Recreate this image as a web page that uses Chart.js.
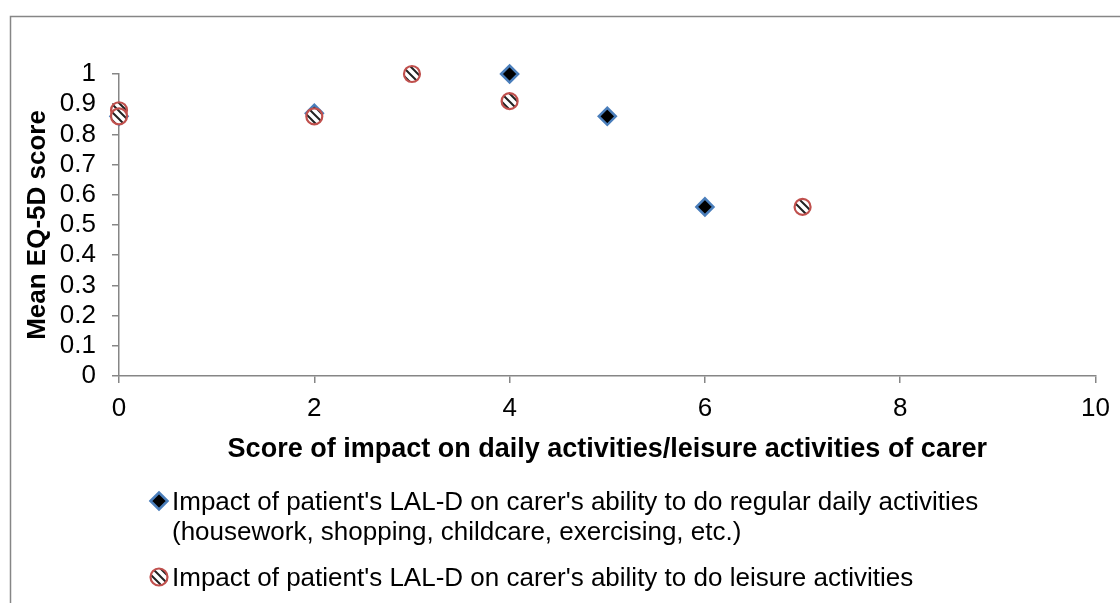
<!DOCTYPE html>
<html>
<head>
<meta charset="utf-8">
<script src="https://cdn.jsdelivr.net/npm/chart.js@4"></script>
<style>
  html, body { margin: 0; padding: 0; background: #fff; }
  #grafico { display: block; }
</style>
</head>
<body>
<canvas id="grafico" width="1120" height="603"></canvas>
<script>
// Dados
var regularX = [0, 2, 4, 5, 6]
var regularY = [0.86, 0.87, 1.0, 0.86, 0.56]

var leisureX = [0, 0, 2, 3, 4, 7]
var leisureY = [0.88, 0.86, 0.86, 1.0, 0.91, 0.56]

var regularLabel = ["Impact of patient's LAL-D on carer's ability to do regular daily activities",
                    "(housework, shopping, childcare, exercising, etc.)"]
var leisureLabel = ["Impact of patient's LAL-D on carer's ability to do leisure activities"]

var xTitle = 'Score of impact on daily activities/leisure activities of carer'
var yTitle = 'Mean EQ-5D score'

var fonte = 'Liberation Sans, Arial, sans-serif'
var cinza = '#868686'

function pontos(xs, ys){
  return xs.map((x, i) => ({x: x, y: ys[i]}))
}

// Padrão listrado dos círculos
function criaPadrao(){
  const c = document.createElement('canvas')
  c.width = 8
  c.height = 8
  const p = c.getContext('2d')
  p.fillStyle = '#fff'
  p.fillRect(0, 0, 8, 8)
  p.strokeStyle = '#222'
  p.lineWidth = 2
  p.beginPath()
  p.moveTo(-2, -2); p.lineTo(10, 10)
  p.moveTo(-2, 6); p.lineTo(2, 10)
  p.moveTo(6, -2); p.lineTo(10, 2)
  p.stroke()
  return document.getElementById('grafico').getContext('2d').createPattern(c, 'repeat')
}
const listrado = criaPadrao()

// Desenha um marcador da legenda
function marcador(ctx, estilo, raio, fundo, borda, largura, x, y){
  ctx.fillStyle = fundo
  ctx.strokeStyle = borda
  ctx.lineWidth = largura
  Chart.helpers.drawPoint(ctx, {pointStyle: estilo, radius: raio, rotation: 0, borderWidth: largura}, x, y)
}

// Moldura e legenda
const molduraLegenda = {
  id: 'molduraLegenda',
  beforeDraw(chart){
    const ctx = chart.ctx
    ctx.save()
    ctx.strokeStyle = cinza
    ctx.lineWidth = 1.5
    ctx.beginPath()
    ctx.moveTo(10.5, 603)
    ctx.lineTo(10.5, 16.5)
    ctx.lineTo(1120, 16.5)
    ctx.stroke()
    ctx.restore()
  },
  afterDraw(chart){
    const ctx = chart.ctx
    ctx.save()
    marcador(ctx, 'rectRot', 8.5, '#000', '#4a7ebb', 2.5, 159, 501)
    marcador(ctx, 'circle', 8.5, listrado, '#c0504d', 2.2, 159, 577)
    ctx.fillStyle = '#000'
    ctx.font = '26px ' + fonte
    ctx.textBaseline = 'alphabetic'
    ctx.textAlign = 'left'
    ctx.fillText(regularLabel[0], 172, 510)
    ctx.fillText(regularLabel[1], 172, 540)
    ctx.fillText(leisureLabel[0], 172, 586)
    ctx.restore()
  }
}

const ctx = document.getElementById('grafico')

let grafico = new Chart(ctx, {
  type: 'scatter',
  data: {
    datasets: [{
      label: regularLabel.join(' '),
      data: pontos(regularX, regularY),
      order: 2,
      clip: false,
      pointStyle: 'rectRot',
      pointRadius: 8.5,
      pointBackgroundColor: '#000',
      pointBorderColor: '#4a7ebb',
      pointBorderWidth: 2.5
    }, {
      label: leisureLabel[0],
      data: pontos(leisureX, leisureY),
      order: 1,
      clip: false,
      pointStyle: 'circle',
      pointRadius: 8,
      pointBackgroundColor: listrado,
      pointBorderColor: '#c0504d',
      pointBorderWidth: 2.2
    }]
  },
  options: {
    responsive: false,
    animation: false,
    layout: { padding: { left: 0, top: 74, right: 23, bottom: 137 } },
    plugins: {
      legend: { display: false },
      tooltip: { enabled: false }
    },
    scales: {
      x: {
        type: 'linear',
        min: 0,
        max: 10,
        ticks: { stepSize: 2, color: '#000', font: { family: fonte, size: 26 }, padding: 10 },
        grid: { drawOnChartArea: false, tickLength: 7, color: cinza, lineWidth: 1.5 },
        border: { color: cinza, width: 1.5 },
        title: { display: true, text: xTitle, color: '#000', font: { family: fonte, size: 27, weight: 'bold' }, padding: { top: 0, bottom: 0 } },
        afterFit(scale){ scale.height = 90 }
      },
      y: {
        min: 0,
        max: 1,
        ticks: {
          stepSize: 0.1, autoSkip: false, color: '#000', font: { family: fonte, size: 26, lineHeight: 1 }, padding: 16,
          callback: v => String(Number(v.toFixed(1)))
        },
        grid: { drawOnChartArea: false, tickLength: 7, color: cinza, lineWidth: 1.5 },
        border: { color: cinza, width: 1.5 },
        title: { display: true, text: yTitle, color: '#000', font: { family: fonte, size: 26, weight: 'bold' }, padding: { top: 22, bottom: 0 } },
        afterFit(scale){ scale.width = 119 }
      }
    }
  },
  plugins: [molduraLegenda]
});
</script>
</body>
</html>
